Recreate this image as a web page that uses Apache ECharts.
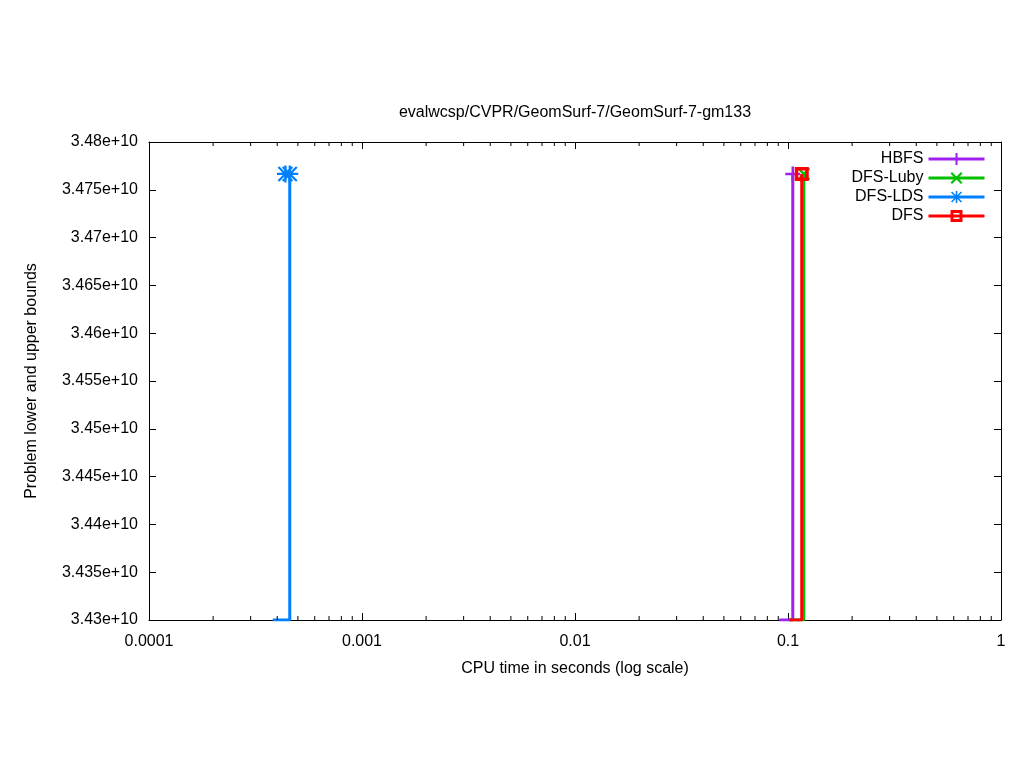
<!DOCTYPE html>
<html>
<head>
<meta charset="utf-8">
<script src="https://cdn.jsdelivr.net/npm/echarts@6/dist/echarts.min.js"></script>
<style>html,body{margin:0;padding:0;background:#fff}#c{width:1024px;height:768px}</style>
</head>
<body>
<div id="c"></div>
<script>
// ---- data ----
var seriesNames = ['HBFS', 'DFS-Luby', 'DFS-LDS', 'DFS'];
var hbfsX = [0.0910, 0.1053];
var hbfsY = [3.43e10, 3.47666e10];
var lubyX = [0.1014, 0.1186];
var lubyY = [3.43e10, 3.47666e10];
var ldsX = [0.000381, 0.000458];
var ldsY = [3.43e10, 3.47666e10];
var ldsUpperX = [0.000437];
var ldsUpperY = [3.47666e10];
var dfsX = [0.1014, 0.1160];
var dfsY = [3.43e10, 3.47666e10];
var xTickLabels = ['0.0001', '0.001', '0.01', '0.1', '1'];
var minorTicks = [];
[0.0001, 0.001, 0.01, 0.1].forEach(function (d) {
  for (var k = 2; k <= 9; k++) minorTicks.push(parseFloat((d * k).toPrecision(3)));
});

var colors = ['#a020f0', '#00c000', '#0080ff', '#ff0000'];
var plusSym = 'path://M5,0H7V12H5Z M0,5H12V7H0Z';
var crossSym = 'path://M0,1.5L1.5,0L12,10.5L10.5,12Z M10.5,0L12,1.5L1.5,12L0,10.5Z';
var starSym = 'path://M5.2,0H6.8V12H5.2Z M0,5.2H12V6.8H0Z M0.5,1.6L1.6,0.5L11.5,10.4L10.4,11.5Z M10.4,0.5L11.5,1.6L1.6,11.5L0.5,10.4Z';
var squareSym = 'path://M0,0H12V12H0Z M3,3V9H9V3Z';
var symbols = [plusSym, crossSym, starSym, squareSym];
var symSizes = [15, 13, 17, 14];

function mk(xs, ys) {
  return xs.map(function (x, j) {
    var item = { value: [x, ys[j]] };
    if (j < xs.length - 1) item.symbol = 'none';
    return item;
  });
}
var xsAll = [hbfsX, lubyX, ldsX, dfsX];
var ysAll = [hbfsY, lubyY, ldsY, dfsY];

var font = 'Liberation Sans, Arial, sans-serif';
var FS = 16;
var series = seriesNames.map(function (n, i) {
  var s = {
    name: n, type: 'line', step: 'end',
    data: mk(xsAll[i], ysAll[i]),
    symbol: symbols[i], symbolSize: symSizes[i],
    showSymbol: true,
    lineStyle: { color: colors[i], width: 3 },
    itemStyle: { color: colors[i] },
    emphasis: { disabled: true },
    animation: false, z: 3 + i
  };
  if (i === 2) {
    s.markPoint = {
      symbol: starSym, symbolSize: 17, animation: false,
      itemStyle: { color: colors[2] }, label: { show: false },
      data: ldsUpperX.map(function (x, j) { return { coord: [x, ldsUpperY[j]] }; })
    };
  }
  return s;
});

series.push({
  type: 'custom', name: 'minor', silent: true, clip: false, z: 10,
  data: minorTicks.map(function (v) { return [v]; }),
  renderItem: function (params, api) {
    var pb = api.coord([api.value(0), 3.43e10]);
    var pt = api.coord([api.value(0), 3.48e10]);
    return { type: 'group', children: [
      { type: 'line', shape: { x1: pb[0], y1: pb[1], x2: pb[0], y2: pb[1] - 4 }, style: { stroke: '#000', lineWidth: 1 } },
      { type: 'line', shape: { x1: pt[0], y1: pt[1], x2: pt[0], y2: pt[1] + 4 }, style: { stroke: '#000', lineWidth: 1 } }
    ] };
  }
});

var axisCommonX = {
  type: 'log', logBase: 10, min: 0.0001, max: 1, interval: 1,
  axisLine: { lineStyle: { color: '#000', width: 1 } },
  axisTick: { inside: true, length: 7, lineStyle: { color: '#000' } },
  splitLine: { show: false }, minorTick: { show: false }
};
var axisCommonY = {
  type: 'value', min: 3.43e10, max: 3.48e10, interval: 5e7,
  axisLine: { show: true, lineStyle: { color: '#000', width: 1 } },
  axisTick: { show: true, inside: true, length: 7, lineStyle: { color: '#000' } },
  splitLine: { show: false }
};

var option = {
  backgroundColor: '#fff',
  animation: false,
  textStyle: { fontFamily: font },
  grid: { left: 149, right: 23, top: 142, bottom: 148, containLabel: false },
  legend: {
    data: seriesNames.map(function (n) { return { name: n }; }),
    orient: 'vertical', right: 33, top: 146,
    align: 'right', itemWidth: 56, itemHeight: 15, itemGap: 3,
    lineStyle: { width: 3 },
    textStyle: { fontFamily: font, fontSize: FS, color: '#000' },
    selectedMode: false
  },
  xAxis: [
    Object.assign({}, axisCommonX, {
      position: 'bottom',
      axisLabel: { margin: 14, fontSize: FS, color: '#000', fontFamily: font,
        formatter: function (v) {
          var e = Math.round(Math.log10(v)) + 4;
          return xTickLabels[e] !== undefined ? xTickLabels[e] : '';
        } },
      name: 'CPU time in seconds (log scale)', nameLocation: 'middle', nameGap: 41,
      nameTextStyle: { fontSize: FS, color: '#000', fontFamily: font }
    }),
    Object.assign({}, axisCommonX, { position: 'top', axisLabel: { show: false } })
  ],
  yAxis: [
    Object.assign({}, axisCommonY, {
      position: 'left',
      axisLabel: { margin: 11, fontSize: FS, color: '#000', fontFamily: font,
        formatter: function (v) { return parseFloat((v / 1e10).toFixed(4)) + 'e+10'; } },
      name: 'Problem lower and upper bounds', nameLocation: 'middle', nameGap: 109,
      nameTextStyle: { fontSize: FS, color: '#000', fontFamily: font }
    }),
    Object.assign({}, axisCommonY, { position: 'right', axisLabel: { show: false } })
  ],
  graphic: [{
    type: 'text', x: 575, y: 113,
    style: { text: 'evalwcsp/CVPR/GeomSurf-7/GeomSurf-7-gm133', fill: '#000',
      font: FS + 'px ' + font, textAlign: 'center', textVerticalAlign: 'middle' }
  }],
  series: series
};

var chart = echarts.init(document.getElementById('c'), null, { renderer: 'canvas' });
chart.setOption(option);
</script>
</body>
</html>
